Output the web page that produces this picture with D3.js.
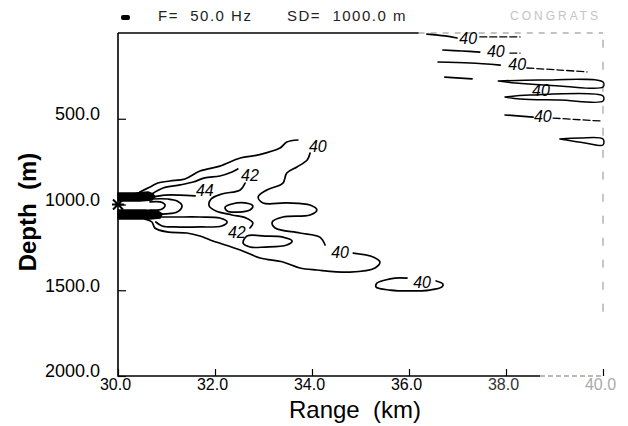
<!DOCTYPE html>
<html><head><meta charset="utf-8">
<script src="https://cdn.jsdelivr.net/npm/d3@7"></script>
<style>body{margin:0;background:#fff}text{white-space:pre}</style>
</head><body><svg id="c" width="628" height="426"></svg>
<script>
// ---- data (range km, depth m) ----
const rangeTicks = [30, 32, 34, 36, 38, 40];
const depthTicks = [500, 1000, 1500, 2000];
const sourceRange = 30.0, sourceDepth = 1000;

// level 40 main contour (split at labels)
const c40a = [[30.45,927],[30.66,898],[30.82,875],[31.07,863],[31.38,851],[31.69,805],[32.10,776],[32.52,729],[32.89,711],[33.34,671],[33.48,636],[33.71,624]];
const c40b = [[33.96,700],[33.90,741],[33.69,781],[33.48,816],[33.40,875],[33.07,915],[32.89,956],[32.99,991],[33.48,991],[33.96,1003],[34.10,1032],[33.96,1061],[33.40,1073],[33.18,1102],[33.24,1137],[33.75,1166],[34.16,1190],[34.27,1236]];
const c40c = [[34.85,1283],[35.26,1306],[35.40,1335],[35.30,1370],[34.78,1394],[34.10,1382],[33.75,1370],[33.40,1335],[32.93,1312],[32.52,1265],[31.90,1207],[31.69,1184],[31.42,1166],[31.01,1160],[30.76,1137],[30.70,1102],[30.56,1085]];
const c40d = [[36.56,1446],[36.70,1464],[36.68,1481],[36.43,1499],[36.02,1504],[35.61,1499],[35.32,1481],[35.34,1458],[35.51,1440],[35.71,1429],[35.96,1429]];
// level 42
const c42a = [[30.70,939],[30.93,904],[31.28,886],[31.55,869],[31.79,845],[32.10,834],[32.35,811],[32.47,793]];
const c42b = [[32.62,875],[32.52,915],[32.14,939],[31.92,968],[31.88,1009],[32.02,1038],[32.35,1061],[32.64,1079],[32.78,1108],[32.72,1137]];
const c42c = [[30.80,1073],[31.18,1073],[31.69,1073],[32.10,1079],[32.25,1102],[32.14,1125],[31.69,1131],[31.18,1131],[30.91,1125],[30.78,1102]];
const c42loop = [[32.66,1184],[33.03,1184],[33.40,1190],[33.59,1213],[33.48,1236],[33.03,1248],[32.72,1248],[32.58,1225]];
// level 44 and inner
const c44loop = [[32.21,1015],[32.35,997],[32.62,991],[32.78,1009],[32.72,1032],[32.47,1044],[32.25,1038]];
const c44a = [[30.70,956],[30.97,945],[31.28,945],[31.59,950]];
const innerA = [[30.66,985],[30.87,985],[30.97,1003],[30.91,1026],[30.66,1032]];
const innerB = [[30.66,968],[31.03,968],[31.22,980],[31.32,1009],[31.22,1044],[30.97,1055],[30.76,1061]];
const bandUpper = [[30.00,933],[30.35,933],[30.62,927],[30.72,939],[30.76,956],[30.70,974],[30.45,980],[30.00,980]];
const bandLower = [[30.00,1032],[30.56,1032],[30.82,1038],[30.91,1055],[30.87,1079],[30.66,1085],[30.00,1085]];
// far-range streaks near the surface
const s1 = [[36.37,6],[36.74,17],[36.99,29]];
const s1b = [[37.46,23],[38.29,23]];
const s2 = [[36.70,99],[37.09,105],[37.46,111]];
const s2b = [[38.08,117],[38.29,117]];
const s3 = [[36.60,169],[37.26,175],[37.88,187]];
const s3b = [[38.43,204],[39.11,216],[39.67,227]];
const s4 = [[36.74,257],[37.30,268]];
const s5 = [[37.84,280],[38.70,274],[40.0,286],[40.0,315],[39.11,309],[38.19,292],[37.84,280]];
const s6 = [[37.98,373],[38.49,362],[40.0,367],[40.0,397],[39.11,391],[38.29,385],[37.98,373]];
const s7 = [[37.98,478],[38.56,490]];
const s7b = [[38.97,496],[39.94,513]];
const s8 = [[39.11,618],[39.53,612],[40.0,618],[40.0,653],[39.63,641],[39.11,618]];
// contour labels: [range, depth, text]
const contourLabels = [[34.12,659,"40"],[34.58,1277,"40"],[36.27,1452,"40"],[32.72,828,"42"],[32.45,1160,"42"],[31.79,915,"44"],
  [37.22,29,"40"],[37.79,105,"40"],[38.23,181,"40"],[38.72,332,"40"],[38.76,484,"40"]];

// ---- drawing ----
const svg = d3.select("#c");
const x = d3.scaleLinear().domain([30, 40]).range([118, 603]);
const y = d3.scaleLinear().domain([0, 2000]).range([33, 376]);
const font = "'Liberation Sans', Arial, sans-serif";

const line = d3.line().x(d => x(d[0])).y(d => y(d[1])).curve(d3.curveCatmullRom.alpha(0.5));
const closed = d3.line().x(d => x(d[0])).y(d => y(d[1])).curve(d3.curveCatmullRomClosed.alpha(0.5));
const lin = d3.line().x(d => x(d[0])).y(d => y(d[1]));

// frame
const fr = svg.append("g").attr("fill", "none");
fr.append("path").attr("d", lin([[30,0],[30,2000],[38.7,2000]])).attr("stroke", "#000").attr("stroke-width", 1.6);
fr.append("path").attr("d", lin([[38.7,2000],[40,2000]])).attr("stroke", "#777").attr("stroke-width", 1.2).attr("stroke-dasharray", "5,3");
fr.append("path").attr("d", lin([[30,0],[36.2,0]])).attr("stroke", "#000").attr("stroke-width", 1.3);
fr.append("path").attr("d", lin([[36.2,0],[40,0]])).attr("stroke", "#888").attr("stroke-width", 1.1).attr("stroke-dasharray", "6,6");
fr.append("path").attr("d", lin([[40,40],[40,1700]])).attr("stroke", "#999").attr("stroke-width", 1.1).attr("stroke-dasharray", "8,14");

// axes
const xAxis = d3.axisBottom(x).tickValues(rangeTicks).tickSize(-7).tickPadding(3).tickFormat(d3.format(".1f"));
const gx = svg.append("g").attr("transform", `translate(0,${y(2000)})`).call(xAxis);
gx.select(".domain").remove();
gx.selectAll("line").attr("stroke", "#000").attr("stroke-width", 1.2);
gx.selectAll("text").attr("font-family", font).attr("font-size", 16).attr("dx", -3)
  .attr("fill", d => d >= 40 ? "#aaa" : (d >= 38 ? "#333" : "#000"));

const yAxis = d3.axisLeft(y).tickValues(depthTicks).tickSize(-8).tickPadding(18).tickFormat(d3.format(".1f"));
const gy = svg.append("g").attr("transform", `translate(${x(30)},0)`).call(yAxis);
gy.select(".domain").remove();
gy.selectAll("line").attr("stroke", "#000").attr("stroke-width", 1.2);
gy.selectAll("text").attr("font-family", font).attr("font-size", 18).attr("fill", "#000").attr("dy", "0.05em");

// bands (dense near-field contours)
[bandUpper, bandLower].forEach(b => svg.append("path").attr("d", lin(b) + "Z").attr("fill", "#000").attr("stroke", "#000").attr("stroke-width", 1.5).attr("stroke-linejoin", "round"));

// contour lines
const cg = svg.append("g").attr("fill", "none").attr("stroke", "#000").attr("stroke-width", 1.7).attr("stroke-linecap", "round");
[c40a, c40b, c40c, c40d, c42a, c42b, c42c, c44a, innerA, innerB, s1, s2, s3, s4, s7].forEach(s => cg.append("path").attr("d", line(s)));
[c42loop, c44loop].forEach(s => cg.append("path").attr("d", closed(s)));
[s5, s6, s8].forEach(s => cg.append("path").attr("d", line(s)).attr("stroke-width", 1.5));
[s1b, s2b, s3b, s7b].forEach(s => cg.append("path").attr("d", line(s)).attr("stroke-width", 1.3).attr("stroke-dasharray", "7,3"));

// labels
svg.append("g").selectAll("text").data(contourLabels).join("text")
  .attr("x", d => x(d[0])).attr("y", d => y(d[1])).attr("dy", "0.36em")
  .attr("text-anchor", "middle").attr("font-family", font).attr("font-size", 16).attr("font-style", "italic")
  .text(d => d[2]);

// source marker
const sx = x(sourceRange), sy = y(sourceDepth);
svg.append("path").attr("d", `M${sx-5},${sy-5}L${sx+5},${sy+5}M${sx-5},${sy+5}L${sx+5},${sy-5}M${sx-6},${sy}L${sx+6},${sy}`)
  .attr("stroke", "#000").attr("stroke-width", 2);

// title
svg.append("rect").attr("x", 121).attr("y", 15).attr("width", 9).attr("height", 5).attr("rx", 2).attr("fill", "#000");
svg.append("text").attr("x", 158).attr("y", 21).attr("font-family", font).attr("font-size", 15).attr("letter-spacing", 1.5).attr("fill", "#222").text("F=  50.0 Hz");
svg.append("text").attr("x", 287).attr("y", 21).attr("font-family", font).attr("font-size", 15).attr("letter-spacing", 1.5).attr("fill", "#222").text("SD=  1000.0 m");
svg.append("text").attr("x", 510).attr("y", 20).attr("font-family", font).attr("font-size", 12).attr("letter-spacing", 3).attr("fill", "#c4c4c4").text("CONGRATS");

// axis titles
svg.append("text").attr("x", 355).attr("y", 418).attr("text-anchor", "middle").attr("font-family", font).attr("font-size", 24).text("Range  (km)");
svg.append("text").attr("transform", "translate(36,212) rotate(-90)").attr("text-anchor", "middle").attr("font-family", font).attr("font-size", 24).attr("font-weight", "bold").text("Depth  (m)");
</script></body></html>
